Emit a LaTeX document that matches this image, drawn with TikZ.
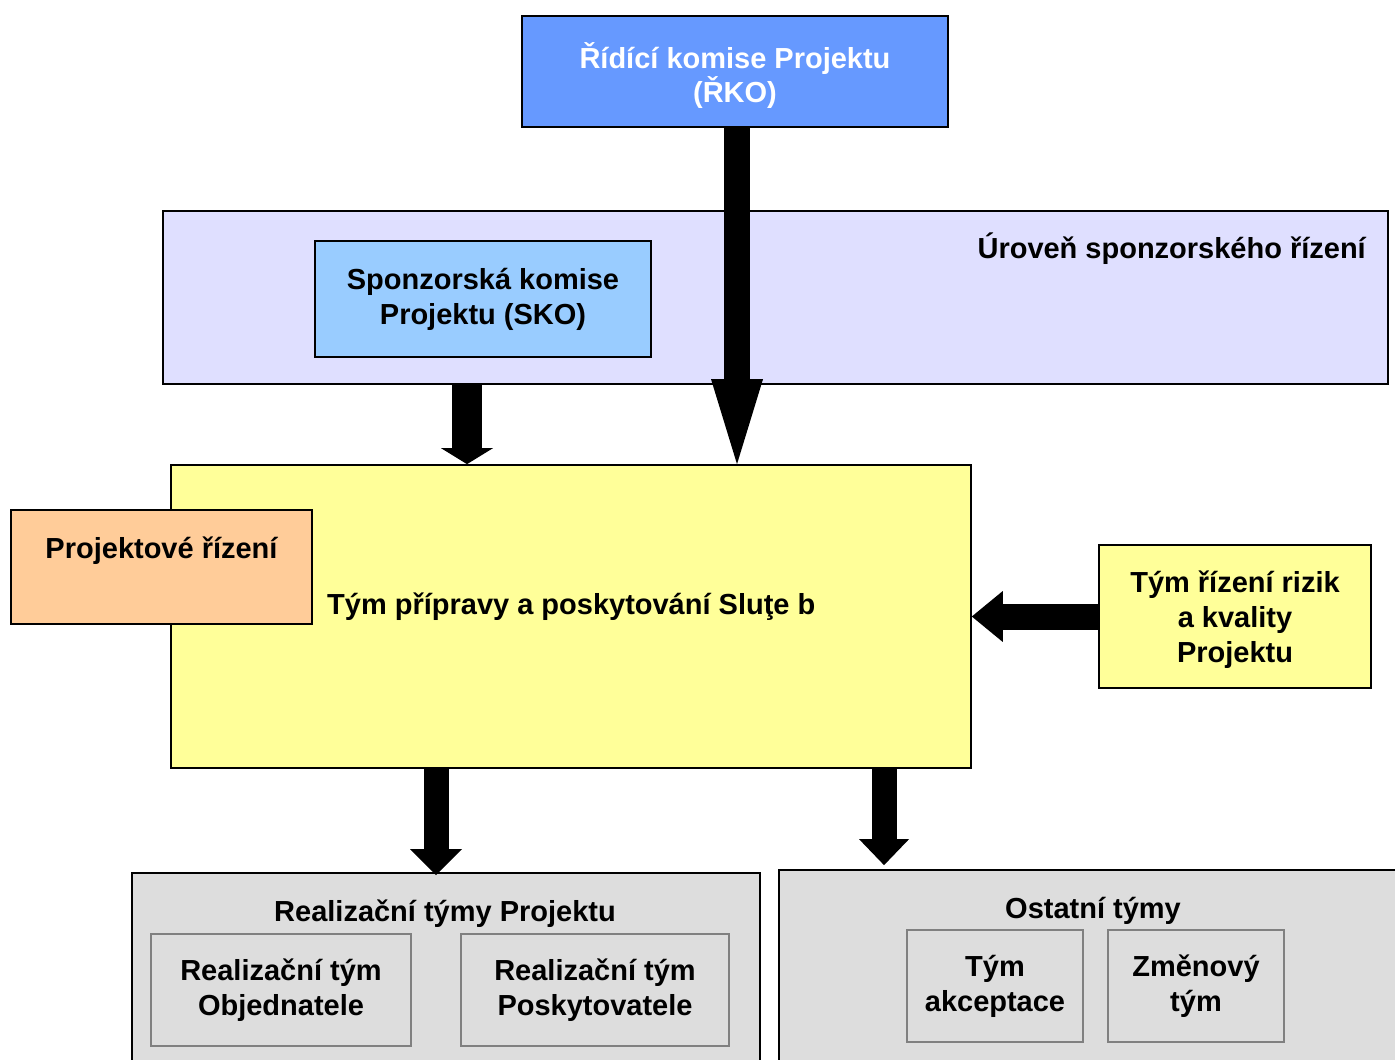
\documentclass[tikz,border=0pt]{standalone}
\usepackage{fontspec}
\setmainfont{Liberation Sans}
\usepackage{xcolor}
\usetikzlibrary{arrows.meta}

\definecolor{rkoblue}{HTML}{6699FF}
\definecolor{skoblue}{HTML}{99CCFF}
\definecolor{bandlav}{HTML}{DFDFFF}
\definecolor{mainyel}{HTML}{FFFF99}
\definecolor{prorange}{HTML}{FFCC99}
\definecolor{teamgray}{HTML}{DDDDDD}

\begin{document}
\begin{tikzpicture}[x=0.02cm, y=-0.02cm, font=\fontsize{16.5}{19.8}\selectfont\bfseries,
        box/.style={shape=rectangle, draw=black, line width=1pt, inner sep=0pt, align=center},
        team/.style={shape=rectangle, draw=gray, line width=1pt, fill=teamgray, inner sep=0pt, align=center},
        bigarrow/.style n args={3}{line width=#1, -{Triangle[length=#3, width=#2, line width=0pt]}}]
        	\useasboundingbox (0,0) rectangle (1395,1060);
        	% Boxes:
        	\node[box, fill=rkoblue, minimum width=8.52cm, minimum height=2.22cm](RKO) at (735, 71.5){};
        	\node[align=center, text=white](RKOT) at (735, 75.5){Řídící komise Projektu\\(ŘKO)};
        	\node[box, fill=bandlav, minimum width=24.5cm, minimum height=3.46cm](Band) at (775.5, 297.5){};
        	\node[anchor=east](BandT) at (1372, 249){Úroveň sponzorského řízení};
        	\node[box, fill=skoblue, minimum width=6.72cm, minimum height=2.32cm](SKO) at (483, 299){Sponzorská komise\\Projektu (SKO)};
        	\node[box, fill=mainyel, minimum width=16cm, minimum height=6.06cm](Main) at (571, 616.5){};
        	\node[anchor=west](MainT) at (321, 607){Tým přípravy a poskytování Sluţe b};
        	\node[box, fill=prorange, minimum width=6.02cm, minimum height=2.28cm](PR) at (161.5, 567){};
        	\node(PRT) at (161.5, 551){Projektové řízení};
        	\node[box, fill=mainyel, minimum width=5.44cm, minimum height=2.86cm](Risk) at (1235, 616.5){};
        	\node[align=center](RiskT) at (1235, 619.5){Tým řízení rizik\\a kvality\\Projektu};
        	% Teams:
        	\node[box, fill=teamgray, minimum width=12.56cm, minimum height=4.14cm](Real) at (446, 976.5){};
        	\node(RealT) at (445, 914){Realizační týmy Projektu};
        	\node[team, minimum width=5.2cm, minimum height=2.24cm](RO) at (281, 990){Realizační tým\\Objednatele};
        	\node[team, minimum width=5.36cm, minimum height=2.24cm](RP) at (595, 990){Realizační tým\\Poskytovatele};
        	\node[box, fill=teamgray, minimum width=12.62cm, minimum height=4.2cm](Other) at (1094.5, 975){};
        	\node(OtherT) at (1093, 911){Ostatní týmy};
        	\node[team, minimum width=3.52cm, minimum height=2.24cm](TA) at (995, 986){Tým\\akceptace};
        	\node[team, minimum width=3.52cm, minimum height=2.24cm](ZT) at (1196, 986){Změnový\\tým};
        	% Arrows:
        	\draw[bigarrow={0.52cm}{1.04cm}{1.7cm}] ([xshift=0.04cm]RKO.south) -- ([xshift=0.04cm]RKO.south |- Main.north);
        	\draw[bigarrow={0.6cm}{1.04cm}{0.32cm}] ([xshift=-0.32cm]SKO.south |- Band.south) -- ([xshift=-0.32cm]SKO.south |- Main.north);
        	\draw[bigarrow={0.52cm}{1.02cm}{0.62cm}] (Risk.west) -- (Main.east);
        	\draw[bigarrow={0.5cm}{1.04cm}{0.52cm}] ([xshift=-0.2cm]Real.north |- Main.south) -- ([xshift=-0.2cm, yshift=-0.06cm]Real.north);
        	\draw[bigarrow={0.5cm}{1cm}{0.52cm}] ([xshift=-4.21cm]Other.north |- Main.south) -- ([xshift=-4.21cm, yshift=0.08cm]Other.north);
\end{tikzpicture}
\end{document}
